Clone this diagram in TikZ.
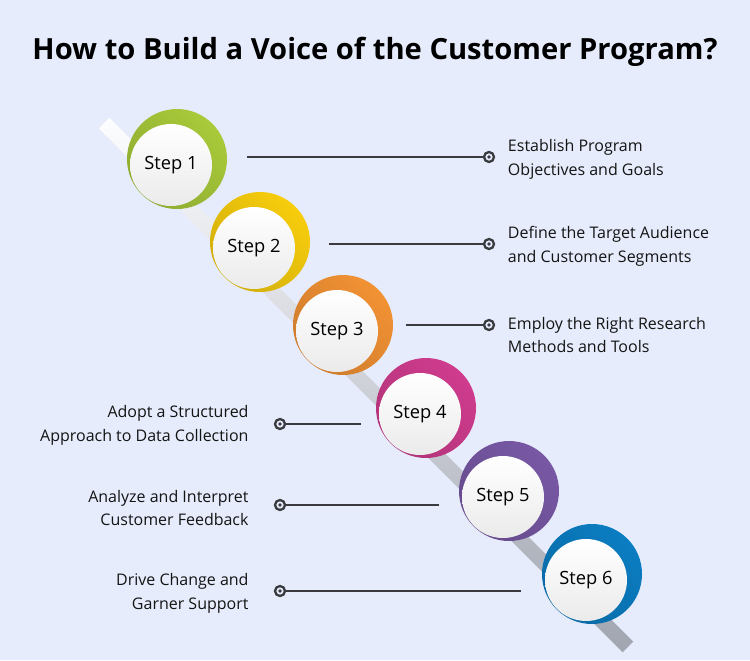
\documentclass[tikz,border=0pt]{standalone}
\usepackage{fontspec}
\setmainfont{Open Sans}
\usetikzlibrary{positioning}
\definecolor{bgblue}{HTML}{E6ECFC}
\definecolor{inkgray}{HTML}{3A3B3F}
\definecolor{stepgreen}{HTML}{A9CA3A}
\definecolor{stepyellow}{HTML}{F7CD0C}
\definecolor{steporange}{HTML}{F29234}
\definecolor{stepmagenta}{HTML}{D03C8E}
\definecolor{steppurple}{HTML}{7858A5}
\definecolor{stepblue}{HTML}{0B7DC2}
\tikzset{
  ringdisk/.style={circle, minimum size=2.0cm, inner sep=0pt,
    top color=#1, middle color=#1, bottom color=#1!85!black, shading angle=-45},
  stepball/.style={circle, minimum size=1.64cm, inner sep=0pt,
    top color=white, bottom color=black!8, text=black,
    font=\fontsize{10.4}{12}\selectfont},
  dot/.style={circle, draw=inkgray, line width=1.3pt, minimum size=0.2cm, inner sep=0pt,
    path picture={\fill[inkgray] (path picture bounding box.center) circle (1.1pt);}},
  link/.style={inkgray, line width=1.4pt},
  lbl/.style={inner sep=0pt, text=black!92, font=\fontsize{9.1}{13.6}\selectfont}
}
\begin{document}
\begin{tikzpicture}[x=0.02cm, y=-0.02cm]
\useasboundingbox (0,0) rectangle (750,660);
\fill[bgblue] (0,0) rectangle (750,660);
\node (title) at (375,52) {\fontsize{16.6}{20}\selectfont\bfseries How to Build a Voice of the Customer Program?};
% diagonal bar behind the steps
\begin{scope}[shift={(104,123)}, rotate=-45]
\shade[top color=white!90!bgblue, bottom color=black!30!bgblue] (0,-7.5) rectangle (741,7.5);
\end{scope}
% steps
\node (r1) [ringdisk=stepgreen] at (177,159) {};
\node (s1) [stepball] at (171,165) {Step 1};
\node (r2) [ringdisk=stepyellow] at (260,242) {};
\node (s2) [stepball] at (254,248) {Step 2};
\node (r3) [ringdisk=steporange] at (343,325) {};
\node (s3) [stepball] at (337,331) {Step 3};
\node (r4) [ringdisk=stepmagenta] at (426,408) {};
\node (s4) [stepball] at (420,414) {Step 4};
\node (r5) [ringdisk=steppurple] at (509,491) {};
\node (s5) [stepball] at (503,497) {Step 5};
\node (r6) [ringdisk=stepblue] at (592,574) {};
\node (s6) [stepball] at (586,580) {Step 6};
% connectors and labels
\node (d1) [dot] at (489,157) {};
\node (d2) [dot] at (489,244) {};
\node (d3) [dot] at (489,325) {};
\node (d4) [dot] at (280,424) {};
\node (d5) [dot] at (280,505) {};
\node (d6) [dot] at (280,591) {};
\coordinate (e1) at (247,157);
\coordinate (e2) at (329,244);
\coordinate (e3) at (406,325);
\coordinate (e4) at (361,424);
\coordinate (e5) at (439,505);
\coordinate (e6) at (521,591);
\draw[link] (e1) -- (d1);
\draw[link] (e2) -- (d2);
\draw[link] (e3) -- (d3);
\draw[link] (e4) -- (d4);
\draw[link] (e5) -- (d5);
\draw[link] (e6) -- (d6);
\node (l1) [lbl, align=left, right=0.25cm of d1, yshift=-0.05cm] {Establish Program\\Objectives and Goals};
\node (l2) [lbl, align=left, right=0.25cm of d2, yshift=-0.04cm] {Define the Target Audience\\and Customer Segments};
\node (l3) [lbl, align=left, right=0.25cm of d3, yshift=-0.2cm] {Employ the Right Research\\Methods and Tools};
\node (l4) [lbl, align=right, left=0.5cm of d4, yshift=-0.03cm] {Adopt a Structured\\Approach to Data Collection};
\node (l5) [lbl, align=right, left=0.5cm of d5, yshift=-0.06cm] {Analyze and Interpret\\Customer Feedback};
\node (l6) [lbl, align=right, left=0.5cm of d6, yshift=-0.04cm] {Drive Change and\\Garner Support};
\end{tikzpicture}
\end{document}
